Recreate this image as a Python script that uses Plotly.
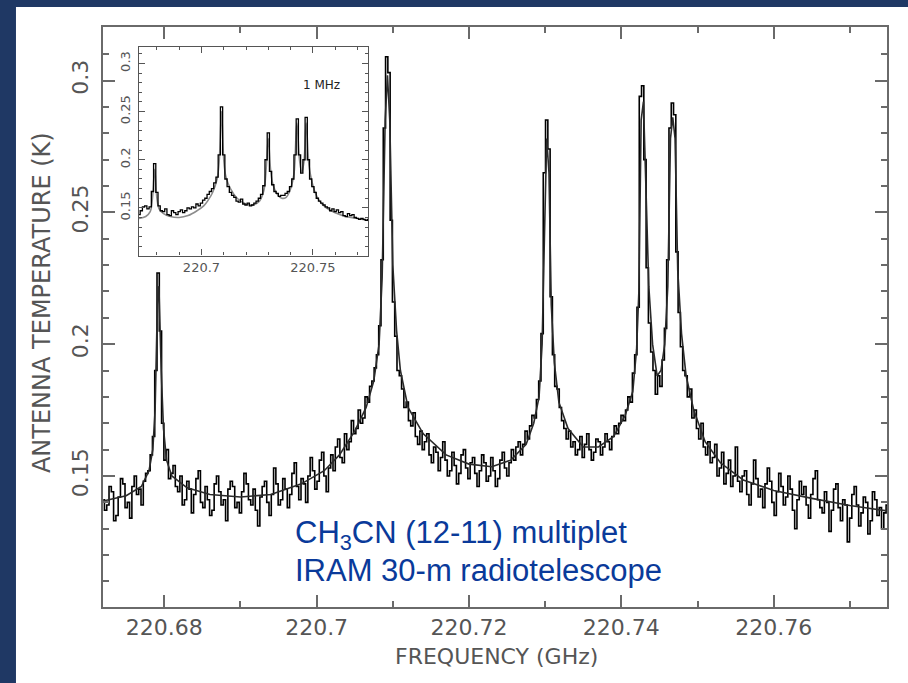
import plotly.graph_objects as go

# ---------------- data ----------------
FREQ_ORIGIN_GHZ = 220.672          # frequency of first channel
CHANNEL_MHZ = 0.3                  # main spectrum channel width
SPECTRUM_K = [
    0.141, 0.137, 0.139, 0.146, 0.144, 0.133, 0.135, 0.142, 0.149, 0.147,
    0.138, 0.140, 0.134, 0.146, 0.150, 0.143, 0.145, 0.139, 0.148, 0.151,
    0.152, 0.158, 0.165, 0.190, 0.227, 0.205, 0.170, 0.156, 0.160, 0.149,
    0.151, 0.154, 0.146, 0.144, 0.150, 0.139, 0.141, 0.148, 0.145, 0.136,
    0.143, 0.149, 0.152, 0.140, 0.138, 0.146, 0.141, 0.135, 0.137, 0.147,
    0.150, 0.144, 0.139, 0.141, 0.133, 0.145, 0.148, 0.146, 0.138, 0.140,
    0.136, 0.144, 0.151, 0.147, 0.141, 0.139, 0.145, 0.137, 0.131, 0.142,
    0.146, 0.148, 0.140, 0.135, 0.143, 0.153, 0.147, 0.139, 0.141, 0.149,
    0.145, 0.138, 0.143, 0.151, 0.155, 0.146, 0.141, 0.149, 0.147, 0.140,
    0.150, 0.157, 0.152, 0.145, 0.148, 0.156, 0.159, 0.150, 0.144, 0.153,
    0.158, 0.152, 0.161, 0.164, 0.157, 0.155, 0.166, 0.160, 0.163, 0.171,
    0.166, 0.168, 0.175, 0.170, 0.172, 0.180, 0.178, 0.184, 0.186, 0.191,
    0.196, 0.207, 0.232, 0.282, 0.309, 0.303, 0.247, 0.216, 0.203, 0.190,
    0.188, 0.183, 0.176, 0.178, 0.171, 0.169, 0.174, 0.165, 0.162, 0.167,
    0.160, 0.163, 0.166, 0.158, 0.155, 0.161, 0.159, 0.152, 0.157, 0.163,
    0.156, 0.150, 0.152, 0.159, 0.154, 0.147, 0.151, 0.158, 0.160, 0.153,
    0.149, 0.155, 0.157, 0.151, 0.146, 0.152, 0.158, 0.155, 0.148, 0.150,
    0.157, 0.152, 0.146, 0.149, 0.156, 0.159, 0.153, 0.150, 0.155, 0.160,
    0.156, 0.161, 0.163, 0.158, 0.162, 0.167, 0.164, 0.169, 0.173, 0.172,
    0.179, 0.186, 0.204, 0.265, 0.285, 0.274, 0.218, 0.196, 0.184, 0.183,
    0.176, 0.171, 0.168, 0.164, 0.167, 0.161, 0.163, 0.158, 0.160, 0.165,
    0.157, 0.162, 0.166, 0.160, 0.156, 0.159, 0.164, 0.163, 0.158, 0.161,
    0.166, 0.163, 0.160, 0.165, 0.169, 0.166, 0.170, 0.173, 0.171, 0.175,
    0.180, 0.178, 0.189, 0.196, 0.214, 0.294, 0.298, 0.270, 0.229, 0.208,
    0.197, 0.190, 0.181, 0.188, 0.184, 0.194, 0.206, 0.232, 0.282, 0.2915,
    0.287, 0.235, 0.212, 0.199, 0.190, 0.188, 0.180, 0.183, 0.172, 0.175,
    0.168, 0.164, 0.170, 0.161, 0.158, 0.163, 0.155, 0.157, 0.162, 0.150,
    0.153, 0.159, 0.147, 0.151, 0.156, 0.146, 0.150, 0.161, 0.148, 0.144,
    0.150, 0.152, 0.143, 0.139, 0.147, 0.156, 0.149, 0.142, 0.145, 0.138,
    0.147, 0.153, 0.148, 0.140, 0.135, 0.144, 0.151, 0.146, 0.139, 0.142,
    0.150, 0.145, 0.137, 0.130, 0.141, 0.148, 0.143, 0.146, 0.139, 0.134,
    0.143, 0.149, 0.152, 0.141, 0.138, 0.136, 0.144, 0.140, 0.129, 0.137,
    0.145, 0.147, 0.138, 0.133, 0.141, 0.139, 0.125, 0.134, 0.143, 0.146,
    0.139, 0.131, 0.136, 0.142, 0.140, 0.128, 0.133, 0.144, 0.141, 0.135,
    0.138, 0.130, 0.136, 0.139,
]

# smooth fit curve (offset from FREQ_ORIGIN in MHz, temperature in K)
MODEL_MHZ = [
    0, 3, 5, 6, 6.5, 6.8, 7.1, 7.3, 7.6, 7.9, 8.3, 9.0, 11, 14, 18, 22, 26, 29,
    31, 33, 34.5, 35.5, 36.2, 36.6, 37.0, 37.3, 37.6, 38.0, 38.5, 39.0, 40, 42,
    45, 48, 51, 53.5, 55.5, 56.5, 57.2, 57.6, 57.9, 58.2, 58.5, 58.8, 59.2,
    59.8, 61, 63, 65, 67, 68.5, 69.5, 70.0, 70.3, 70.6, 70.9, 71.2, 71.6, 72.1,
    72.7, 73.2, 73.7, 74.1, 74.45, 74.75, 75.05, 75.4, 75.9, 76.5, 77.5, 79,
    81, 84, 88, 93, 98, 103,
]
MODEL_K = [
    0.1405, 0.1425, 0.1460, 0.1520, 0.1600, 0.1750, 0.2150, 0.2220, 0.1900,
    0.1680, 0.1560, 0.1500, 0.1455, 0.1430, 0.1420, 0.1430, 0.1470, 0.1520,
    0.1580, 0.1670, 0.1760, 0.1860, 0.2000, 0.2250, 0.2850, 0.3020, 0.2850,
    0.2300, 0.2050, 0.1900, 0.1760, 0.1660, 0.1580, 0.1545, 0.1535, 0.1560,
    0.1620, 0.1700, 0.1800, 0.2000, 0.2400, 0.2780, 0.2650, 0.2150, 0.1930,
    0.1780, 0.1680, 0.1610, 0.1610, 0.1650, 0.1730, 0.1820, 0.1980, 0.2200,
    0.2850, 0.2920, 0.2620, 0.2220, 0.2000, 0.1880, 0.1900, 0.2000, 0.2220,
    0.2780, 0.2860, 0.2780, 0.2280, 0.2040, 0.1880, 0.1750, 0.1630, 0.1550,
    0.1485, 0.1445, 0.1415, 0.1388, 0.1367,
]

# inset: same spectrum at 1 MHz resolution
INSET_CHANNEL_MHZ = 1.0
INSET_SPECTRUM_K = [
    0.143, 0.147, 0.151, 0.152, 0.149, 0.151, 0.167, 0.196, 0.166, 0.152,
    0.147, 0.146, 0.149, 0.143, 0.142, 0.147, 0.145, 0.143, 0.146, 0.148,
    0.145, 0.147, 0.150, 0.149, 0.151, 0.150, 0.154, 0.152, 0.155, 0.158,
    0.160, 0.164, 0.167, 0.170, 0.176, 0.182, 0.205, 0.255, 0.205, 0.180,
    0.172, 0.166, 0.163, 0.161, 0.157, 0.156, 0.159, 0.154, 0.153, 0.155,
    0.152, 0.153, 0.155, 0.157, 0.160, 0.164, 0.173, 0.200, 0.228, 0.188,
    0.174, 0.167, 0.165, 0.162, 0.163, 0.163, 0.165, 0.167, 0.172, 0.180,
    0.205, 0.2425, 0.205, 0.186, 0.200, 0.244, 0.200, 0.180, 0.172, 0.166,
    0.160, 0.157, 0.155, 0.153, 0.151, 0.150, 0.147, 0.149, 0.146, 0.148,
    0.145, 0.146, 0.142, 0.141, 0.144, 0.142, 0.143, 0.140, 0.139, 0.138,
    0.139, 0.138, 0.137, 0.138,
]
INSET_MODEL_MHZ = [
    0, 3, 5, 6, 7, 8, 9, 11, 14, 18, 22, 26, 29, 31, 33, 35, 36, 37, 38, 39,
    41, 44, 48, 51, 54, 56, 57, 58, 59, 60, 62, 64, 66, 68, 69.5, 70.8, 72,
    73, 74, 75, 76.2, 77.5, 79, 81, 84, 88, 93, 98, 103,
]
INSET_MODEL_K = [
    0.139, 0.141, 0.146, 0.160, 0.190, 0.160, 0.149, 0.144, 0.141, 0.140,
    0.142, 0.147, 0.152, 0.158, 0.166, 0.180, 0.200, 0.250, 0.200, 0.182,
    0.170, 0.160, 0.154, 0.153, 0.157, 0.168, 0.190, 0.222, 0.190, 0.175,
    0.164, 0.160, 0.161, 0.170, 0.185, 0.238, 0.200, 0.187, 0.198, 0.238,
    0.195, 0.178, 0.166, 0.157, 0.150, 0.145, 0.141, 0.139, 0.137,
]

TITLE_X = "FREQUENCY (GHz)"
TITLE_Y = "ANTENNA TEMPERATURE (K)"
NOTE_1 = "CH<sub>3</sub>CN (12-11) multiplet"
NOTE_2 = "IRAM 30-m radiotelescope"
INSET_NOTE = "1 MHz"

# ---------------- build ----------------
def ghz(offset_mhz):
    return FREQ_ORIGIN_GHZ + offset_mhz / 1000.0

spec_x = [ghz(i * CHANNEL_MHZ) for i in range(len(SPECTRUM_K))]
model_x = [ghz(m) for m in MODEL_MHZ]
inset_x = [ghz(i * INSET_CHANNEL_MHZ) for i in range(len(INSET_SPECTRUM_K))]
inset_model_x = [ghz(m) for m in INSET_MODEL_MHZ]

AX = "#6a6a6a"
TXT = "#555555"
FONT = "DejaVu Sans"

fig = go.Figure()
fig.add_trace(go.Scatter(x=spec_x, y=SPECTRUM_K, mode="lines",
                         line=dict(color="black", width=1.6, shape="hvh"),
                         xaxis="x", yaxis="y", hoverinfo="skip"))
fig.add_trace(go.Scatter(x=model_x, y=MODEL_K, mode="lines",
                         line=dict(color="#2a2a2a", width=1.6),
                         xaxis="x", yaxis="y", hoverinfo="skip"))
fig.add_trace(go.Scatter(x=inset_model_x, y=INSET_MODEL_K, mode="lines",
                         line=dict(color="#8c8c8c", width=1.6, shape="spline"),
                         xaxis="x2", yaxis="y2", hoverinfo="skip"))
fig.add_trace(go.Scatter(x=inset_x, y=INSET_SPECTRUM_K, mode="lines",
                         line=dict(color="black", width=1.3, shape="hvh"),
                         xaxis="x2", yaxis="y2", hoverinfo="skip"))

main_axis = dict(showline=True, linecolor=AX, linewidth=1.5, mirror="ticks",
                 ticks="inside", tickcolor=AX, tickwidth=1.5, ticklen=12,
                 showgrid=False, zeroline=False,
                 tickfont=dict(family=FONT, size=22, color=TXT))
inset_axis = dict(showline=True, linecolor="#555", linewidth=1.2, mirror="ticks",
                  ticks="inside", tickcolor="#555", tickwidth=1.2, ticklen=6,
                  showgrid=False, zeroline=False,
                  tickfont=dict(family=FONT, size=13, color=TXT))

fig.update_layout(
    width=908, height=683,
    margin=dict(l=103, r=21, t=27, b=76),
    paper_bgcolor="#1f3864", plot_bgcolor="white", showlegend=False,
    xaxis=dict(main_axis, domain=[0, 1], range=[220.67196, 220.77487],
               tick0=220.68, dtick=0.02,
               minor=dict(tick0=220.68, dtick=0.01, ticks="inside", ticklen=6,
                          tickcolor=AX, tickwidth=1.5, showgrid=False)),
    yaxis=dict(main_axis, domain=[0, 1], range=[0.1003, 0.3203],
               tick0=0.15, dtick=0.05, tickangle=-90, ticklabelstandoff=4,
               minor=dict(tick0=0.15, dtick=0.01, ticks="inside", ticklen=6,
                          tickcolor=AX, tickwidth=1.5, showgrid=False)),
    xaxis2=dict(inset_axis, domain=[0.0459, 0.3384], anchor="y2",
                range=[220.67196, 220.77487], tick0=220.7, dtick=0.05,
                minor=dict(tick0=220.7, dtick=0.01, ticks="inside", ticklen=3,
                           tickcolor="#555", tickwidth=1.2, showgrid=False)),
    yaxis2=dict(inset_axis, domain=[0.606, 0.965], anchor="x2",
                range=[0.1005, 0.3168], tick0=0.15, dtick=0.05, tickangle=-90,
                ticklabelstandoff=3,
                minor=dict(tick0=0.15, dtick=0.01, ticks="inside", ticklen=3,
                           tickcolor="#555", tickwidth=1.2, showgrid=False)),
    shapes=[dict(type="rect", xref="paper", yref="paper", layer="below",
                 x0=-0.111, x1=1.05, y0=-0.2, y1=1.0345,
                 fillcolor="white", line=dict(width=0))],
    annotations=[
        dict(text=TITLE_Y, xref="paper", yref="paper", x=-0.0778, y=0.524,
             textangle=-90, showarrow=False, xanchor="center", yanchor="middle",
             font=dict(family=FONT, size=24, color=TXT)),
        dict(text=TITLE_X, xref="paper", yref="paper", x=0.5013, y=-0.0845,
             showarrow=False, xanchor="center", yanchor="middle",
             font=dict(family=FONT, size=22, color=TXT)),
        dict(text=NOTE_1, xref="paper", yref="paper", x=0.2423, y=0.1245,
             showarrow=False, xanchor="left", yanchor="middle",
             font=dict(family="Liberation Sans", size=31, color="#0a3a9a")),
        dict(text=NOTE_2, xref="paper", yref="paper", x=0.2423, y=0.0625,
             showarrow=False, xanchor="left", yanchor="middle",
             font=dict(family="Liberation Sans", size=31, color="#0a3a9a")),
        dict(text=INSET_NOTE, xref="paper", yref="paper", x=0.279, y=0.9,
             showarrow=False, xanchor="center", yanchor="middle",
             font=dict(family=FONT, size=12, color="#222")),
    ],
)

fig.write_html("out.html", post_script="document.body.style.margin='0';")
